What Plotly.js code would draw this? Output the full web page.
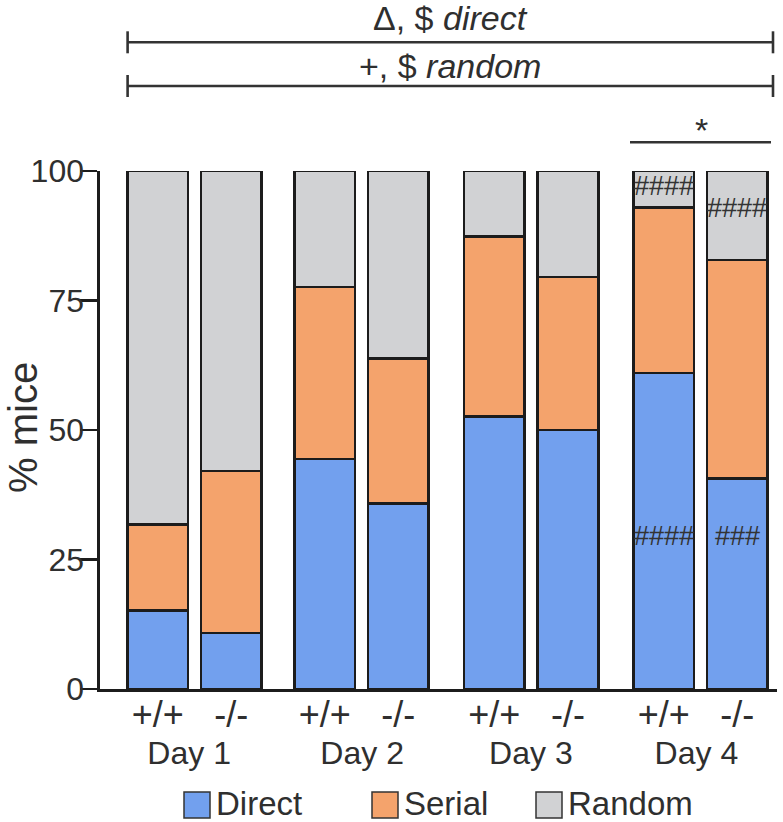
<!DOCTYPE html>
<html>
<head>
<meta charset="utf-8">
<script src="https://cdn.plot.ly/plotly-3.0.1.min.js"></script>
<style>html,body{margin:0;padding:0;background:#fff;}#chart{width:783px;height:822px;}</style>
</head>
<body>
<div id="chart"></div>
<script>
// ---- data ----
const days = ['Day 1', 'Day 2', 'Day 3', 'Day 4'];
const genotypes = ['+/+', '-/-'];
const seriesNames = ['Direct', 'Serial', 'Random'];
// % mice, order: D1 +/+, D1 -/-, D2 +/+, D2 -/-, D3 +/+, D3 -/-, D4 +/+, D4 -/-
const direct = [15.2, 10.8, 44.4, 35.8, 52.6, 50.0, 61.0, 40.6];
const serial = [16.6, 31.3, 33.2, 28.0, 34.8, 29.5, 31.9, 42.2];
const random = [68.2, 57.9, 22.4, 36.2, 12.6, 20.5, 7.1, 17.2];
const yTicks = [0, 25, 50, 75, 100];
const yTitle = '% mice';
const bracketLabels = ['\u0394, $ <i>direct</i>', '+, $ <i>random</i>'];
const starLabel = '*';
// significance marks on Day 4 bars: [genotype, y value, text]
const hashMarks = [['+/+', 97.1, '####'], ['-/-', 92.9, '####'], ['+/+', 29.5, '####'], ['-/-', 29.5, '###']];

// ---- styling / layout geometry ----
const colors = ['#72A0EE', '#F4A36C', '#D1D2D4'];
const values = [direct, serial, random];
const FONT = 'Liberation Sans, Arial, sans-serif';
const TXT = '#2f2f2f';
const LINE = '#1c1c1c';
const W = 783, H = 822;
const PL = 100, PR = 777, PT = 171, PB = 689;
const pw = PR - PL, ph = PB - PT;
const px2x = p => (p - PL) / pw;
const py2y = p => (PB - p) / ph;
// each day's panel: pixel boundaries, first-bar centre, pitch
const panelEdges = [100, 278.3, 446, 615.8, 777];
const firstCentre = [157.7, 324.7, 494.3, 663.7];
const pitch = 73.6;

const traces = [];
days.forEach((d, i) => {
  const ax = i === 0 ? 'x' : 'x' + (i + 1);
  seriesNames.forEach((s, k) => {
    traces.push({
      type: 'bar', name: s, x: genotypes, y: values[k].slice(2 * i, 2 * i + 2),
      xaxis: ax, yaxis: 'y', showlegend: false,
      marker: {color: colors[k], line: {color: LINE, width: 2.6}},
      hoverinfo: 'skip'
    });
  });
});

const layout = {
  width: W, height: H,
  margin: {l: PL, r: W - PR, t: PT, b: H - PB, pad: 0},
  paper_bgcolor: '#fff', plot_bgcolor: '#fff',
  barmode: 'stack', bargap: 0.175,
  font: {family: FONT, color: TXT},
  yaxis: {
    range: [0, 100], tickvals: yTicks, ticktext: yTicks.map(String),
    showgrid: false, zeroline: false, showline: true, linecolor: LINE, linewidth: 2.6,
    ticks: 'outside', ticklen: 17, tickwidth: 2.6, tickcolor: LINE,
    tickfont: {size: 32, family: FONT, color: TXT}, ticklabelstandoff: -10,
    anchor: 'x', fixedrange: true
  },
  annotations: [], shapes: []
};
days.forEach((d, i) => {
  const key = i === 0 ? 'xaxis' : 'xaxis' + (i + 1);
  const a = panelEdges[i], b = panelEdges[i + 1];
  layout[key] = {
    domain: [px2x(a), px2x(b)],
    range: [(a - firstCentre[i]) / pitch, (b - firstCentre[i]) / pitch],
    type: 'category', anchor: 'y',
    showgrid: false, zeroline: false, showline: true, linecolor: LINE, linewidth: 2.6,
    ticks: '', tickfont: {size: 36, family: FONT, color: TXT}, ticklabelstandoff: -8,
    title: {text: d, font: {size: 32, family: FONT, color: TXT}, standoff: 7},
    fixedrange: true
  };
});

// y-axis title
layout.annotations.push({xref: 'paper', yref: 'paper', x: px2x(0), y: py2y(428), text: yTitle, textangle: -90,
  showarrow: false, xanchor: 'left', yanchor: 'middle', borderpad: 0, font: {size: 40, family: FONT, color: TXT}});
// brackets on top
const brackets = [{y: 42.3, ty: 18}, {y: 86, ty: 66}];
brackets.forEach((br, j) => {
  const x0 = px2x(127.6), x1 = px2x(773);
  const lc = {color: '#333', width: 2.6};
  layout.shapes.push({type: 'line', xref: 'paper', yref: 'paper', x0: x0, x1: x1, y0: py2y(br.y), y1: py2y(br.y), line: lc});
  layout.shapes.push({type: 'line', xref: 'paper', yref: 'paper', x0: x0, x1: x0, y0: py2y(br.y - 11), y1: py2y(br.y + 11), line: lc});
  layout.shapes.push({type: 'line', xref: 'paper', yref: 'paper', x0: x1, x1: x1, y0: py2y(br.y - 11), y1: py2y(br.y + 11), line: lc});
  layout.annotations.push({xref: 'paper', yref: 'paper', x: px2x(450), y: py2y(br.ty), text: bracketLabels[j],
    showarrow: false, xanchor: 'center', yanchor: 'middle', font: {size: 34, family: FONT, color: TXT}});
});
// day-4 star
layout.shapes.push({type: 'line', xref: 'paper', yref: 'paper', x0: px2x(630), x1: px2x(771), y0: py2y(142.3), y1: py2y(142.3), line: {color: '#333', width: 2.6}});
layout.annotations.push({xref: 'paper', yref: 'paper', x: px2x(701.5), y: py2y(130), text: starLabel, showarrow: false,
  xanchor: 'center', yanchor: 'middle', font: {size: 34, family: FONT, color: TXT}});
// hash marks
hashMarks.forEach(h => {
  layout.annotations.push({xref: 'x4', yref: 'y', x: h[0], y: h[1], text: h[2], showarrow: false,
    xanchor: 'center', yanchor: 'middle', font: {size: 27, family: FONT, color: '#333'}});
});
// custom legend
const legBoxX = [184, 372, 536];
const legY = 803, box = 26;
seriesNames.forEach((s, k) => {
  layout.shapes.push({type: 'rect', xref: 'paper', yref: 'paper',
    x0: px2x(legBoxX[k]), x1: px2x(legBoxX[k] + box), y0: py2y(legY + 2 + box / 2), y1: py2y(legY + 2 - box / 2),
    fillcolor: colors[k], line: {color: '#333', width: 1.5}});
  layout.annotations.push({xref: 'paper', yref: 'paper', x: px2x(legBoxX[k] + box + 4), y: py2y(legY),
    text: s, showarrow: false, xanchor: 'left', yanchor: 'middle', font: {size: 33, family: FONT, color: TXT}});
});

Plotly.newPlot('chart', traces, layout, {staticPlot: true, displayModeBar: false});
</script>
</body>
</html>
